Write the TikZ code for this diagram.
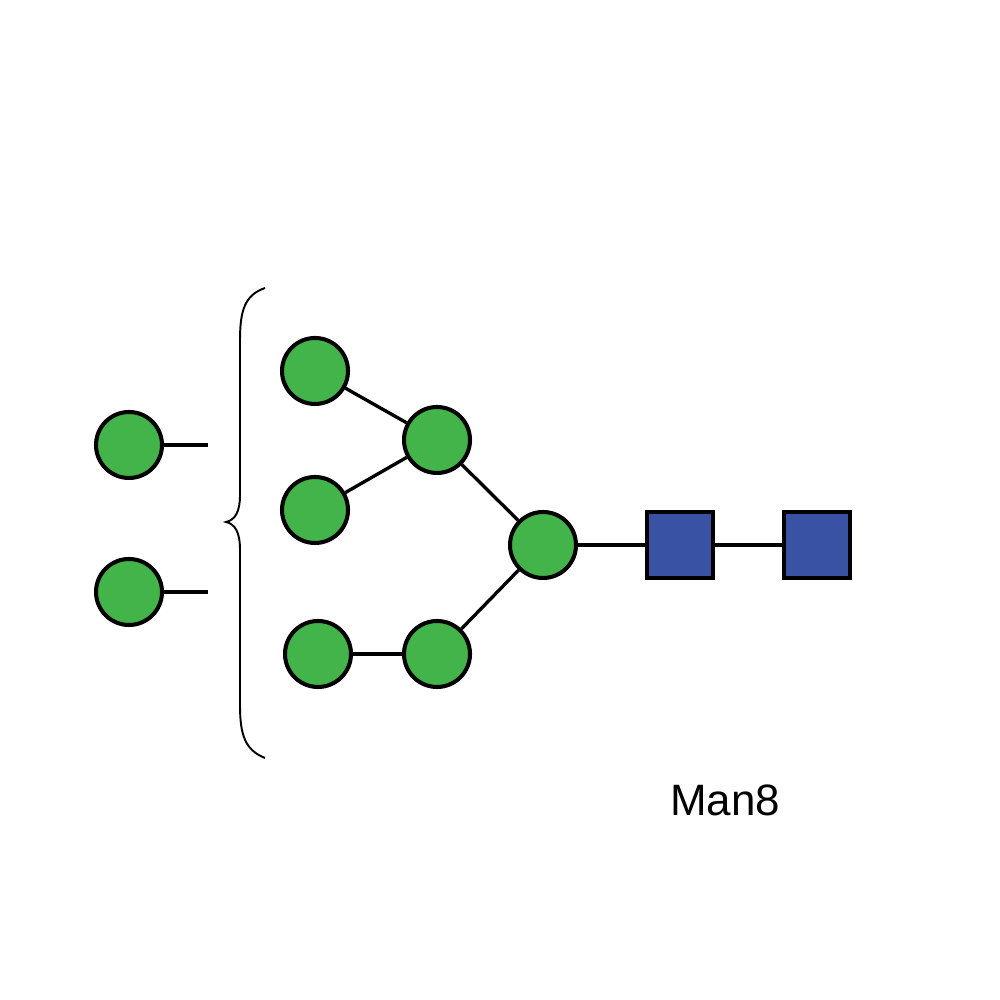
\documentclass[tikz,border=0pt]{standalone}
\usepackage{fontspec}
\setmainfont{Liberation Sans}
\definecolor{mangreen}{RGB}{66,180,74}
\definecolor{glcblue}{RGB}{57,82,163}
\begin{document}
\begin{tikzpicture}[
    man/.style={circle,draw=black,line width=1.15pt,fill=mangreen,minimum size=0.66cm,inner sep=0pt},
    glcnac/.style={rectangle,draw=black,line width=1.15pt,fill=glcblue,minimum size=0.66cm,inner sep=0pt},
    bond/.style={line width=0.95pt}
  ]
                \useasboundingbox (0,0) rectangle (10,10) ;
                % sugars
                \coordinate (s1) at (2.08,5.55) ;
                \coordinate (s2) at (2.08,4.08) ;
                \node [man] (l1) at (1.29,5.55) {} ;
                \node [man] (l2) at (1.29,4.08) {} ;
                \node [man] (a) at (3.15,6.29) {} ;
                \node [man] (b) at (3.15,4.90) {} ;
                \node [man] (c) at (3.18,3.46) {} ;
                \node [man] (d) at (4.37,5.60) {} ;
                \node [man] (e) at (4.37,3.46) {} ;
                \node [man] (f) at (5.43,4.55) {} ;
                \node [glcnac] (g1) at (6.80,4.55) {} ;
                \node [glcnac] (g2) at (8.17,4.55) {} ;
                % bonds
                \draw [bond] (l1) -- (s1) ;
                \draw [bond] (l2) -- (s2) ;
                \draw [bond] (a) -- (d) ;
                \draw [bond] (b) -- (d) ;
                \draw [bond] (c) -- (e) ;
                \draw [bond] (d) -- (f) ;
                \draw [bond] (e) -- (f) ;
                \draw [bond] (f) -- (g1) ;
                \draw [bond] (g1) -- (g2) ;
                % the brace
                \draw [line width=0.55pt] (2.65,7.12) .. controls (2.45,7.05) and (2.40,6.90) .. (2.40,6.60)
                      -- (2.40,5.05) .. controls (2.40,4.88) and (2.35,4.80) .. (2.26,4.78)
                      .. controls (2.35,4.76) and (2.40,4.68) .. (2.40,4.50)
                      -- (2.40,2.95) .. controls (2.40,2.65) and (2.45,2.50) .. (2.65,2.42) ;
                \node [font=\fontsize{12.5}{15}\selectfont] (lbl) at (7.25,2.0) {Man8} ;
            \end{tikzpicture}
\end{document}
